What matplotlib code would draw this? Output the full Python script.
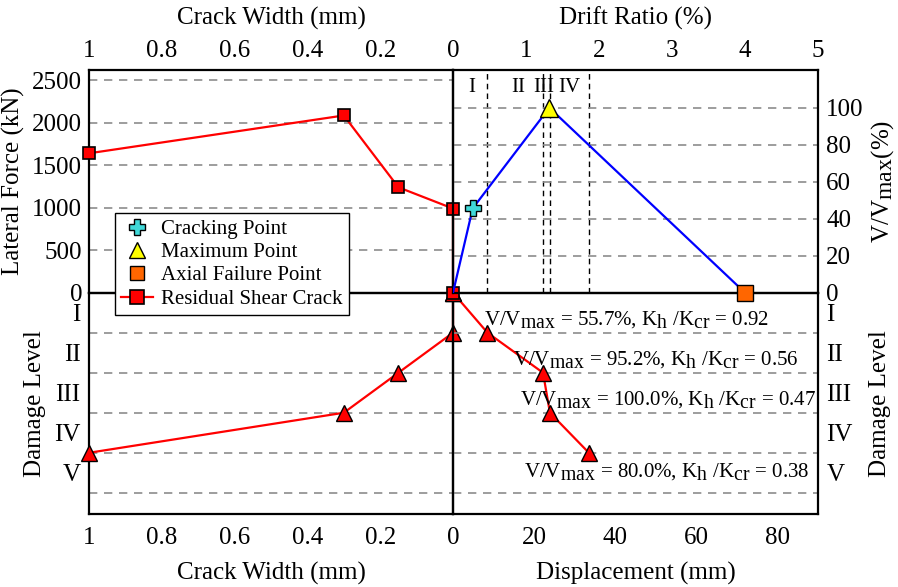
import matplotlib.pyplot as plt
import matplotlib._mathtext as mathtext_internals
from matplotlib.lines import Line2D

plt.rcParams['font.family'] = ['Liberation Serif', 'DejaVu Serif']
plt.rcParams['mathtext.fontset'] = 'custom'
plt.rcParams['mathtext.rm'] = 'Liberation Serif'
plt.rcParams['mathtext.it'] = 'Liberation Serif'
plt.rcParams['font.size'] = 18
# subscripts in the original are almost full size
mathtext_internals.SHRINK_FACTOR = 0.95

# residual shear crack width vs lateral force (upper left)
crack_w_force = [1.0, 0.3, 0.15, 0.0, 0.0]
lateral_force = [1640, 2085, 1240, 990, 0]
# residual shear crack width vs damage level (lower left)
crack_w_dmg = [0.0, 0.0, 0.15, 0.3, 1.0]
crack_dmg_level = [0, 1, 2, 3, 4]
# backbone: drift ratio vs V/Vmax (upper right)
env_drift = [0.0, 0.27, 1.32, 4.0]
env_vratio = [0, 45.6, 100, 0]
# displacement at damage level boundaries (lower right)
dmg_disp = [0, 8.5, 22.2, 23.9, 33.5]
dmg_level = [0, 1, 2, 3, 4]
disp_per_drift = 18.0  # mm per 1 % drift

levels = ['I', 'II', 'III', 'IV', 'V']
notes = [r'V/V$_{\mathrm{max}}$ = 55.7%, K$_{\mathrm{h}}$ /K$_{\mathrm{cr}}$ = 0.92',
         r'V/V$_{\mathrm{max}}$ = 95.2%, K$_{\mathrm{h}}$ /K$_{\mathrm{cr}}$ = 0.56',
         r'V/V$_{\mathrm{max}}$ = 100.0%, K$_{\mathrm{h}}$ /K$_{\mathrm{cr}}$ = 0.47',
         r'V/V$_{\mathrm{max}}$ = 80.0%, K$_{\mathrm{h}}$ /K$_{\mathrm{cr}}$ = 0.38']
note_x = [7.6, 14.7, 16.4, 17.6]
note_y = [0.68, 1.68, 2.68, 4.47]

fig = plt.figure(figsize=(8.98, 5.87), dpi=100)
L, C, R = 89 / 898, 453 / 898, 818 / 898
T, M, B = 1 - 70 / 587, 1 - 292.7 / 587, 1 - 514 / 587

ax_ll = fig.add_axes([L, B, C - L, M - B], zorder=1)
ax_lr = fig.add_axes([C, B, R - C, M - B], zorder=1)
ax_ul = fig.add_axes([L, M, C - L, T - M], zorder=2)
ax_ur = fig.add_axes([C, M, R - C, T - M], zorder=2)

grid_kw = dict(color='#8c8c8c', linestyle=(0, (5, 4)), linewidth=1.2)
for ax in [ax_ll, ax_lr, ax_ul, ax_ur]:
    ax.patch.set_alpha(0)
    for s in ax.spines.values():
        s.set_linewidth(1.6)
    ax.tick_params(which='both', length=0)

# upper left: crack width vs lateral force
ax_ul.plot(crack_w_force, lateral_force, color='red', lw=1.6, marker='s', ms=9,
           mfc='red', mec='k', mew=1.2, clip_on=False, zorder=4)
ax_ul.set_xlim(1, 0)
ax_ul.set_ylim(0, 2620)
ax_ul.xaxis.tick_top()
ax_ul.set_xticks([1, 0.8, 0.6, 0.4, 0.2, 0], labels=['1', '0.8', '0.6', '0.4', '0.2', '0'])
ax_ul.set_yticks([0, 500, 1000, 1500, 2000, 2500])
ax_ul.tick_params(axis='x', pad=6)
ax_ul.tick_params(axis='y', pad=5)
ax_ul.grid(axis='y', **grid_kw)
ax_ul.xaxis.set_label_position('top')
ax_ul.set_xlabel('Crack Width (mm)', labelpad=11)
ax_ul.set_ylabel('Lateral Force (kN)', labelpad=5)

# upper right: drift ratio vs V/Vmax
for d in dmg_disp[1:]:
    ax_ur.axvline(d / disp_per_drift, color='k', lw=1.0, linestyle=(0, (4, 3)), zorder=1)
ax_ur.plot(env_drift, env_vratio, color='blue', lw=1.6, zorder=3)
ax_ur.plot(env_drift[1], env_vratio[1], ls='none', marker='P', ms=11, mfc='#3fd8d8',
           mec='k', mew=1.0, clip_on=False, zorder=5)
ax_ur.plot(env_drift[2], env_vratio[2], ls='none', marker='^', ms=13, mfc='yellow',
           mec='k', mew=1.0, clip_on=False, zorder=5)
ax_ur.plot(env_drift[3], env_vratio[3], ls='none', marker='s', ms=11, mfc='#ff6600',
           mec='k', mew=1.0, clip_on=False, zorder=5)
ax_ur.set_xlim(0, 5)
ax_ur.set_ylim(0, 120.4)
ax_ur.xaxis.tick_top()
ax_ur.yaxis.tick_right()
ax_ur.set_xticks([1, 2, 3, 4, 5])
ax_ur.set_yticks([0, 20, 40, 60, 80, 100])
ax_ur.tick_params(axis='x', pad=6)
ax_ur.tick_params(axis='y', pad=6)
ax_ur.grid(axis='y', **grid_kw)
ax_ur.xaxis.set_label_position('top')
ax_ur.yaxis.set_label_position('right')
ax_ur.set_xlabel('Drift Ratio (%)', labelpad=11)
ax_ur.set_ylabel(r'V/V$_{\mathrm{max}}$(%)', labelpad=4)
for x, lab in zip([0.26, 0.89, 1.25, 1.59], levels[:4]):
    ax_ur.text(x, 111, lab, ha='center', va='center', fontsize=15)

# lower left: crack width vs damage level
ax_ll.plot(crack_w_dmg, crack_dmg_level, color='red', lw=1.6, marker='^', ms=11,
           mfc='red', mec='k', mew=1.0, clip_on=False, zorder=4)
ax_ll.set_xlim(1, 0)
ax_ll.set_ylim(5.53, 0)
ax_ll.set_xticks([1, 0.8, 0.6, 0.4, 0.2, 0], labels=['1', '0.8', '0.6', '0.4', '0.2', '0'])
ax_ll.set_yticks([1, 2, 3, 4, 5], labels=[])
ax_ll.set_yticks([0.5, 1.5, 2.5, 3.5, 4.5], labels=levels, minor=True)
ax_ll.tick_params(axis='x', pad=9.5)
ax_ll.tick_params(axis='y', which='minor', pad=6)
ax_ll.grid(axis='y', which='major', **grid_kw)
ax_ll.set_xlabel('Crack Width (mm)', labelpad=9)
ax_ll.set_ylabel('Damage Level', labelpad=6)

# lower right: displacement vs damage level
ax_lr.plot(dmg_disp, dmg_level, color='red', lw=1.6, marker='^', ms=11,
           mfc='red', mec='k', mew=1.0, clip_on=False, zorder=4)
ax_lr.set_xlim(0, 5 * disp_per_drift)
ax_lr.set_ylim(5.53, 0)
ax_lr.set_xticks([20, 40, 60, 80])
ax_lr.yaxis.tick_right()
ax_lr.set_yticks([1, 2, 3, 4, 5], labels=[])
ax_lr.set_yticks([0.5, 1.5, 2.5, 3.5, 4.5], labels=levels, minor=True)
ax_lr.tick_params(axis='x', pad=9.5)
ax_lr.tick_params(axis='y', which='minor', pad=6)
ax_lr.grid(axis='y', which='major', **grid_kw)
ax_lr.yaxis.set_label_position('right')
ax_lr.set_xlabel('Displacement (mm)', labelpad=9)
ax_lr.set_ylabel('Damage Level', labelpad=12)
for x, y, s in zip(note_x, note_y, notes):
    ax_lr.text(x, y, s, ha='left', va='center', fontsize=15, zorder=6)

handles = [
    Line2D([], [], ls='none', marker='P', ms=11, mfc='#3fd8d8', mec='k', mew=1.0),
    Line2D([], [], ls='none', marker='^', ms=11, mfc='yellow', mec='k', mew=1.0),
    Line2D([], [], ls='none', marker='s', ms=10, mfc='#ff6600', mec='k', mew=1.0),
    Line2D([], [], color='red', lw=1.6, marker='s', ms=10, mfc='red', mec='k', mew=1.2),
]
fig.legend(handles, ['Cracking Point', 'Maximum Point', 'Axial Failure Point', 'Residual Shear Crack'],
           loc='upper left', bbox_to_anchor=(115 / 898, 1 - 213 / 587), borderaxespad=0,
           fancybox=False, edgecolor='k', framealpha=1, fontsize=15, handlelength=1.5,
           handletextpad=0.4, borderpad=0.3, labelspacing=0.18)

fig.savefig('out.png', dpi=100)
